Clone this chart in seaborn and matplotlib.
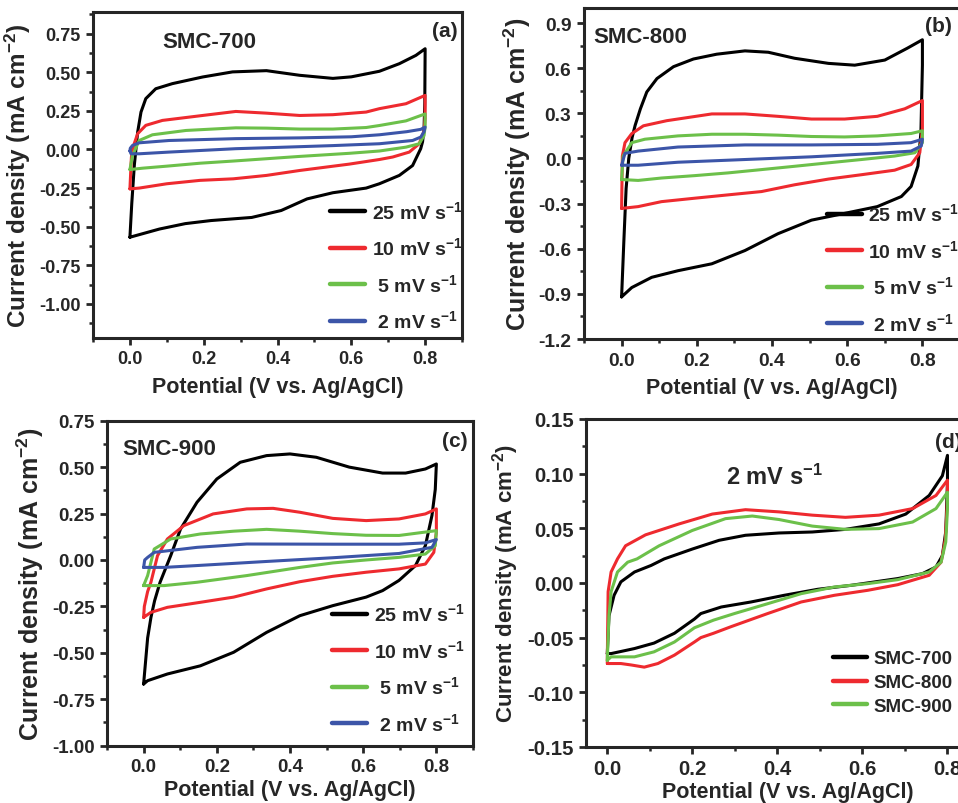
import matplotlib
matplotlib.use("Agg")
import matplotlib.pyplot as plt
import seaborn as sns
import pandas as pd
from matplotlib.ticker import MultipleLocator, FormatStrFormatter

# ---- (a) SMC-700, loops start at 0 V (lower end), go up the anodic branch, come back on the cathodic one
a25_v = [0.000, 0.005, 0.012, 0.021, 0.030, 0.043, 0.070, 0.115, 0.197, 0.278, 0.370, 0.460, 0.550, 0.600, 0.676, 0.730, 0.775, 0.800,
         0.799, 0.797, 0.793, 0.788, 0.766, 0.730, 0.676, 0.640, 0.550, 0.480, 0.410, 0.330, 0.220, 0.150, 0.080, 0.000]
a25_j = [-0.568, -0.350, -0.100, 0.113, 0.242, 0.329, 0.393, 0.426, 0.469, 0.502, 0.510, 0.480, 0.460, 0.470, 0.506, 0.555, 0.609, 0.652,
         0.300, 0.130, 0.050, 0.005, -0.104, -0.168, -0.222, -0.250, -0.280, -0.320, -0.395, -0.440, -0.460, -0.480, -0.515, -0.568]
a10_v = [0.000, 0.004, 0.007, 0.021, 0.043, 0.088, 0.197, 0.287, 0.370, 0.460, 0.550, 0.640, 0.676, 0.748, 0.800,
         0.800, 0.797, 0.784, 0.757, 0.712, 0.676, 0.594, 0.460, 0.370, 0.280, 0.190, 0.100, 0.025, 0.000]
a10_j = [-0.255, -0.050, 0.005, 0.102, 0.156, 0.188, 0.220, 0.246, 0.235, 0.220, 0.225, 0.242, 0.264, 0.296, 0.350,
         0.200, 0.120, 0.037, -0.017, -0.049, -0.065, -0.095, -0.136, -0.168, -0.190, -0.200, -0.222, -0.250, -0.255]
a5_v = [0.000, 0.007, 0.025, 0.061, 0.152, 0.287, 0.370, 0.460, 0.550, 0.640, 0.676, 0.748, 0.800,
        0.800, 0.797, 0.784, 0.748, 0.676, 0.594, 0.460, 0.370, 0.280, 0.190, 0.100, 0.035, 0.000]
a5_j = [-0.130, -0.039, 0.058, 0.095, 0.123, 0.140, 0.138, 0.132, 0.132, 0.142, 0.155, 0.185, 0.230,
        0.150, 0.090, 0.037, 0.015, -0.010, -0.025, -0.045, -0.060, -0.075, -0.089, -0.108, -0.121, -0.130]
a2_v = [0.000, 0.001, 0.007, 0.025, 0.106, 0.287, 0.460, 0.600, 0.676, 0.750, 0.788, 0.800,
        0.797, 0.788, 0.766, 0.676, 0.550, 0.370, 0.287, 0.106, 0.025, 0.003, 0.000]
a2_j = [-0.010, 0.008, 0.026, 0.043, 0.058, 0.070, 0.075, 0.082, 0.095, 0.115, 0.130, 0.145,
        0.115, 0.080, 0.058, 0.037, 0.025, 0.011, 0.005, -0.017, -0.028, -0.028, -0.010]

# ---- (b) SMC-800
b25_v = [0.000, 0.006, 0.012, 0.019, 0.028, 0.036, 0.050, 0.067, 0.094, 0.138, 0.191, 0.253, 0.328, 0.390, 0.460, 0.550, 0.620, 0.700, 0.760, 0.800,
         0.800, 0.796, 0.788, 0.770, 0.744, 0.680, 0.593, 0.505, 0.416, 0.328, 0.240, 0.150, 0.080, 0.027, 0.000]
b25_j = [-0.920, -0.550, -0.200, 0.000, 0.140, 0.220, 0.330, 0.442, 0.531, 0.610, 0.661, 0.693, 0.715, 0.706, 0.666, 0.632, 0.620, 0.654, 0.733, 0.789,
         0.620, 0.170, -0.050, -0.186, -0.253, -0.320, -0.365, -0.410, -0.500, -0.612, -0.700, -0.746, -0.790, -0.858, -0.920]
b10_v = [0.000, 0.002, 0.009, 0.027, 0.058, 0.120, 0.240, 0.328, 0.416, 0.505, 0.593, 0.680, 0.753, 0.800,
         0.800, 0.793, 0.770, 0.726, 0.638, 0.550, 0.460, 0.372, 0.283, 0.195, 0.106, 0.044, 0.000]
b10_j = [-0.332, 0.016, 0.105, 0.165, 0.217, 0.251, 0.296, 0.296, 0.280, 0.262, 0.262, 0.280, 0.330, 0.385,
         0.195, 0.038, -0.040, -0.078, -0.108, -0.137, -0.175, -0.220, -0.242, -0.264, -0.287, -0.320, -0.332]
b5_v = [0.000, 0.004, 0.027, 0.062, 0.150, 0.240, 0.328, 0.416, 0.505, 0.593, 0.680, 0.770, 0.800,
        0.800, 0.780, 0.726, 0.638, 0.550, 0.460, 0.372, 0.283, 0.195, 0.106, 0.044, 0.000]
b5_j = [-0.140, 0.016, 0.105, 0.128, 0.150, 0.161, 0.161, 0.155, 0.146, 0.143, 0.150, 0.166, 0.184,
        0.105, 0.038, 0.016, -0.007, -0.029, -0.052, -0.074, -0.096, -0.114, -0.130, -0.146, -0.140]
b2_v = [0.000, 0.009, 0.044, 0.150, 0.328, 0.505, 0.680, 0.770, 0.800,
        0.797, 0.770, 0.680, 0.505, 0.328, 0.150, 0.044, 0.000]
b2_j = [-0.045, 0.034, 0.049, 0.076, 0.090, 0.090, 0.094, 0.105, 0.128,
        0.083, 0.049, 0.034, 0.011, -0.007, -0.025, -0.045, -0.045]

# ---- (c) SMC-900
c25_v = [0.000, 0.011, 0.020, 0.030, 0.045, 0.074, 0.101, 0.146, 0.200, 0.264, 0.336, 0.400, 0.472, 0.562, 0.653, 0.716, 0.770, 0.800,
         0.797, 0.788, 0.770, 0.743, 0.698, 0.653, 0.608, 0.517, 0.427, 0.336, 0.246, 0.155, 0.065, 0.011, 0.000]
c25_j = [-0.668, -0.420, -0.310, -0.220, -0.120, 0.023, 0.167, 0.311, 0.436, 0.526, 0.562, 0.571, 0.553, 0.500, 0.468, 0.468, 0.490, 0.517,
         0.380, 0.240, 0.077, -0.030, -0.110, -0.165, -0.200, -0.246, -0.300, -0.390, -0.497, -0.570, -0.614, -0.650, -0.668]
c10_v = [0.000, 0.002, 0.011, 0.020, 0.038, 0.065, 0.110, 0.190, 0.282, 0.354, 0.427, 0.517, 0.608, 0.698, 0.770, 0.800,
         0.800, 0.793, 0.770, 0.698, 0.608, 0.517, 0.427, 0.336, 0.246, 0.155, 0.065, 0.020, 0.000]
c10_j = [-0.309, -0.250, -0.170, -0.120, 0.023, 0.113, 0.185, 0.248, 0.275, 0.278, 0.257, 0.224, 0.212, 0.221, 0.248, 0.275,
         0.149, 0.041, -0.022, -0.048, -0.066, -0.088, -0.117, -0.156, -0.200, -0.228, -0.255, -0.282, -0.309]
c5_v = [0.000, 0.011, 0.029, 0.074, 0.155, 0.246, 0.336, 0.427, 0.517, 0.608, 0.698, 0.800,
        0.797, 0.770, 0.698, 0.608, 0.517, 0.427, 0.282, 0.146, 0.056, 0.000]
c5_j = [-0.138, -0.084, 0.059, 0.113, 0.140, 0.155, 0.165, 0.155, 0.142, 0.133, 0.132, 0.158,
        0.077, 0.032, 0.014, 0.000, -0.016, -0.040, -0.084, -0.120, -0.138, -0.138]
c2_v = [0.000, 0.003, 0.011, 0.029, 0.146, 0.282, 0.517, 0.698, 0.770, 0.800,
        0.788, 0.698, 0.517, 0.336, 0.146, 0.056, 0.011, 0.000]
c2_j = [-0.040, 0.000, 0.014, 0.041, 0.068, 0.086, 0.085, 0.085, 0.092, 0.110,
        0.068, 0.035, 0.012, -0.008, -0.030, -0.040, -0.040, -0.040]

# ---- (d) all three at 2 mV/s
d700_v = [0.000, 0.004, 0.016, 0.032, 0.064, 0.103, 0.134, 0.200, 0.263, 0.325, 0.404, 0.482, 0.560, 0.639, 0.702, 0.757, 0.788, 0.800,
          0.800, 0.796, 0.788, 0.773, 0.741, 0.683, 0.573, 0.495, 0.416, 0.338, 0.268, 0.220, 0.205, 0.158, 0.110, 0.064, 0.009, 0.000]
d700_j = [-0.0646, -0.030, -0.0113, 0.001, 0.010, 0.016, 0.022, 0.031, 0.039, 0.0436, 0.0457, 0.0466, 0.049, 0.054, 0.063, 0.080, 0.098, 0.1167,
          0.092, 0.047, 0.025, 0.0146, 0.0085, 0.004, -0.0022, -0.0058, -0.0113, -0.0174, -0.022, -0.028, -0.033, -0.046, -0.055, -0.060, -0.0646, -0.0646]
d800_v = [0.000, 0.002, 0.009, 0.024, 0.043, 0.090, 0.169, 0.247, 0.325, 0.404, 0.482, 0.560, 0.639, 0.718, 0.773, 0.800,
          0.800, 0.795, 0.785, 0.757, 0.683, 0.613, 0.534, 0.456, 0.377, 0.291, 0.250, 0.220, 0.205, 0.158, 0.119, 0.087, 0.056, 0.032, 0.001]
d800_j = [-0.0737, -0.008, 0.010, 0.022, 0.034, 0.044, 0.054, 0.063, 0.067, 0.065, 0.062, 0.060, 0.062, 0.068, 0.080, 0.094,
          0.077, 0.040, 0.019, 0.007, -0.0016, -0.0067, -0.0113, -0.0174, -0.028, -0.040, -0.046, -0.050, -0.054, -0.066, -0.0737, -0.077, -0.075, -0.0737, -0.0737]
d900_v = [0.000, 0.004, 0.009, 0.024, 0.048, 0.070, 0.122, 0.200, 0.278, 0.341, 0.404, 0.482, 0.560, 0.639, 0.718, 0.773, 0.800,
          0.800, 0.796, 0.785, 0.757, 0.683, 0.613, 0.534, 0.456, 0.377, 0.299, 0.250, 0.205, 0.158, 0.110, 0.064, 0.009, 0.000]
d900_j = [-0.0707, -0.030, -0.008, 0.010, 0.019, 0.022, 0.034, 0.048, 0.0588, 0.0612, 0.058, 0.052, 0.049, 0.0497, 0.0557, 0.068, 0.083,
          0.068, 0.0375, 0.019, 0.010, 0.003, -0.0006, -0.0037, -0.0098, -0.019, -0.028, -0.034, -0.041, -0.054, -0.063, -0.0676, -0.0676, -0.0707]

rate_labels = ["25 mV s$^{-1}$", "10 mV s$^{-1}$", " 5 mV s$^{-1}$", " 2 mV s$^{-1}$"]
sample_labels = ["SMC-700", "SMC-800", "SMC-900"]
rate_colors = ["#000000", "#ee2a2f", "#6cc04a", "#3c55a8"]

sns.set_theme(style="ticks")
plt.rcParams["font.family"] = ["Liberation Sans", "DejaVu Sans"]
plt.rcParams["font.weight"] = "bold"
plt.rcParams["mathtext.fontset"] = "custom"
plt.rcParams["mathtext.rm"] = "Liberation Sans:bold"
plt.rcParams["mathtext.it"] = "Liberation Sans:bold"
plt.rcParams["mathtext.bf"] = "Liberation Sans:bold"
plt.rcParams["mathtext.default"] = "regular"
plt.rcParams["axes.unicode_minus"] = False

fig = plt.figure(figsize=(9.58, 8.04), dpi=100)

YLAB = "Current density (mA cm$^{-2}$)"
XLAB = "Potential (V vs. Ag/AgCl)"


def draw_panel(ax, loops, names, colors, ylim, ystep, yfmt, xlim, tick_fs, ylab_fs, xpad=6):
    frames = []
    for name, (v, j) in zip(names, loops):
        frames.append(pd.DataFrame({"V": v, "J": j, "scan": name}))
    df = pd.concat(frames, ignore_index=True)
    sns.lineplot(data=df, x="V", y="J", hue="scan", hue_order=names, palette=colors,
                 sort=False, estimator=None, lw=2.2, solid_joinstyle="round", ax=ax)
    ax.set_xlim(*xlim)
    ax.set_ylim(*ylim)
    ax.xaxis.set_major_locator(MultipleLocator(0.2))
    ax.xaxis.set_minor_locator(MultipleLocator(0.1))
    ax.yaxis.set_major_locator(MultipleLocator(ystep))
    ax.yaxis.set_minor_locator(MultipleLocator(ystep / 2))
    ax.xaxis.set_major_formatter(FormatStrFormatter("%.1f"))
    ax.yaxis.set_major_formatter(FormatStrFormatter(yfmt))
    ax.tick_params(which="major", direction="out", length=5, width=2, labelsize=tick_fs, pad=4)
    ax.tick_params(which="minor", direction="out", length=3, width=1.8)
    for lab in ax.get_xticklabels() + ax.get_yticklabels():
        lab.set_fontweight("bold")
    for s in ax.spines.values():
        s.set_linewidth(2.2)
        s.set_visible(True)
    ax.set_xlabel(XLAB, fontsize=15.5, fontweight="bold", labelpad=xpad)
    ax.set_ylabel(YLAB, fontsize=ylab_fs, fontweight="bold", labelpad=4)


def panel_legend(ax, x0, y0, fs, spacing):
    handles, labels = ax.get_legend_handles_labels()
    leg = ax.legend(handles, labels, loc="lower left", bbox_to_anchor=(x0, y0), frameon=False,
                    fontsize=fs, handlelength=1.8, handletextpad=0.35, labelspacing=spacing,
                    borderpad=0, borderaxespad=0)
    for line in leg.get_lines():
        line.set_linewidth(3.2)
    for t in leg.get_texts():
        t.set_fontweight("bold")


# (a)
ax_a = fig.add_axes([0.0971, 0.5784, 0.3852, 0.4055])
draw_panel(ax_a, [(a25_v, a25_j), (a10_v, a10_j), (a5_v, a5_j), (a2_v, a2_j)], rate_labels, rate_colors,
           (-1.22, 0.89), 0.25, "%.2f", (-0.1, 0.9), 13, 17.5)
panel_legend(ax_a, 0.642, 0.02, 14, 0.75)
ax_a.text(0.187, 0.908, "SMC-700", transform=ax_a.transAxes, fontsize=16, fontweight="bold", va="center")
ax_a.text(0.989, 0.942, "(a)", transform=ax_a.transAxes, fontsize=15, fontweight="bold", va="center", ha="right")

# (b)
ax_b = fig.add_axes([0.6096, 0.5771, 0.3925, 0.4117])
draw_panel(ax_b, [(b25_v, b25_j), (b10_v, b10_j), (b5_v, b5_j), (b2_v, b2_j)], rate_labels, rate_colors,
           (-1.2, 1.0), 0.3, "%.1f", (-0.1, 0.9), 13.8, 18)
panel_legend(ax_b, 0.645, 0.015, 14, 0.75)
ax_b.text(0.024, 0.915, "SMC-800", transform=ax_b.transAxes, fontsize=16, fontweight="bold", va="center")
ax_b.text(0.907, 0.946, "(b)", transform=ax_b.transAxes, fontsize=15, fontweight="bold", va="center")

# (c)
ax_c = fig.add_axes([0.1117, 0.0713, 0.382, 0.4042])
draw_panel(ax_c, [(c25_v, c25_j), (c10_v, c10_j), (c5_v, c5_j), (c2_v, c2_j)], rate_labels, rate_colors,
           (-1.0, 0.75), 0.25, "%.2f", (-0.1, 0.9), 13.5, 18, xpad=3)
panel_legend(ax_c, 0.615, 0.036, 14, 0.75)
ax_c.text(0.041, 0.913, "SMC-900", transform=ax_c.transAxes, fontsize=16, fontweight="bold", va="center")
ax_c.text(0.986, 0.938, "(c)", transform=ax_c.transAxes, fontsize=15, fontweight="bold", va="center", ha="right")

# (d)
ax_d = fig.add_axes([0.6117, 0.0697, 0.4217, 0.408])
draw_panel(ax_d, [(d700_v, d700_j), (d800_v, d800_j), (d900_v, d900_j)], sample_labels, rate_colors[:3],
           (-0.15, 0.15), 0.05, "%.2f", (-0.05, 0.9), 14.7, 16, xpad=2)
panel_legend(ax_d, 0.611, 0.098, 13.5, 0.35)
ax_d.text(0.347, 0.826, "2 mV s$^{-1}$", transform=ax_d.transAxes, fontsize=17, fontweight="bold", va="center")
ax_d.text(0.864, 0.93, "(d)", transform=ax_d.transAxes, fontsize=15, fontweight="bold", va="center")

fig.savefig("out.png", dpi=100)
